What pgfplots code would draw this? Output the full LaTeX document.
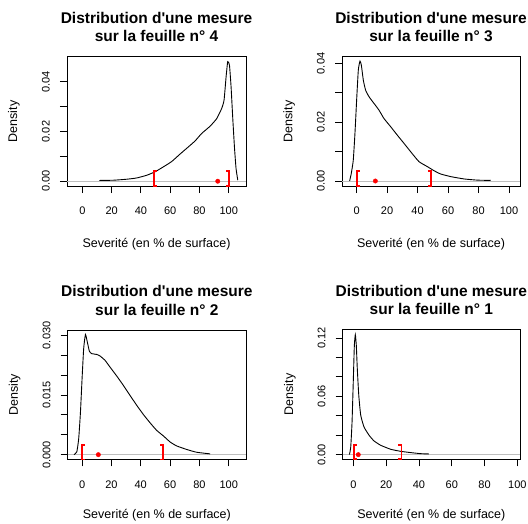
\documentclass[border=0pt]{standalone}
\usepackage{fontspec}
\setmainfont{Liberation Sans}[Ligatures=TeXOff]
\usepackage{pgfplots}
\pgfplotsset{compat=1.18}

\definecolor{rgray}{RGB}{190,190,190}
\definecolor{rred}{RGB}{255,0,0}

\pgfplotsset{
  rplot/.style={
    scale only axis, anchor=north west, clip=false,
    axis line style={line width=0.9pt},
    tick align=outside, major tick length=7pt,
    every tick/.style={black, line width=0.9pt},
    xtick pos=lower, ytick pos=left,
    xtick={0,20,...,100}, xticklabels={0,20,40,60,80,100},
    scaled y ticks=false,
    ticklabel style={font=\fontsize{11}{13}\selectfont},
    xticklabel style={inner sep=0pt, anchor=north},
    yticklabel style={inner sep=0pt, rotate=90, anchor=south},
    xticklabel shift=14pt,
    yticklabel shift=10pt,
    xlabel={Severité (en \% de surface)},
    ylabel={Density},
    label style={font=\fontsize{12.5}{15}\selectfont},
    xlabel style={at={(axis description cs:0.5,-0.472)}, anchor=base},
    ylabel style={at={(axis description cs:-0.279,0.5)}, anchor=base},
    title style={at={(axis description cs:0.5,1)}, anchor=south, align=center,
      inner sep=0pt, yshift=8.5pt, font=\fontsize{15.5}{18.5}\selectfont\bfseries},
  },
  lowrow/.style={xlabel style={at={(axis description cs:0.5,-0.457)}}},
  zero/.style={rgray, line width=0.9pt},
  dens/.style={black, line width=0.9pt, smooth, tension=0.3},
  brk/.style={rred, line width=1.8pt},
  pt/.style={only marks, mark=*, mark size=2.2pt, rred},
}

\begin{document}
\begin{tikzpicture}
\useasboundingbox (0pt,0pt) rectangle (528pt,-523pt);

% feuille 4
\begin{axis}[rplot, at={(67pt,-56.7pt)}, width=179pt, height=129.3pt,
  xmin=-10.5, xmax=111.8, ymin=-0.00193, ymax=0.0501,
  ytick={0,0.01,0.02,0.03,0.04}, yticklabels={0.00,,0.02,,0.04},
  title={Distribution d'une mesure\\sur la feuille n° 4}]
\addplot[zero] coordinates {(-10.5,0) (111.8,0)};
\addplot[dens] coordinates {
(11.6,0.0003) (21.2,0.0004) (30.3,0.0008) (37.1,0.0013) (44,0.0024)
(49.7,0.0038) (55.4,0.0058) (61,0.0079) (66.7,0.0109) (72.4,0.0138)
(77,0.0162) (81.5,0.0192) (87.2,0.0221) (91.8,0.0252) (95.2,0.0293)
(96.8,0.0326) (98.2,0.0420) (99.3,0.0481) (100.5,0.0467) (101.6,0.0380)
(102.7,0.0259) (103.9,0.0138) (105,0.0051) (106.2,0.0004)};
\addplot[brk] coordinates {(51,0.004) (49,0.004) (49,-0.002) (51,-0.002)};
\addplot[brk] coordinates {(98.2,0.004) (100.2,0.004) (100.2,-0.002) (98.2,-0.002)};
\addplot[pt] coordinates {(92.5,0)};
\end{axis}

% feuille 3
\begin{axis}[rplot, at={(342pt,-56.7pt)}, width=178pt, height=129.3pt,
  xmin=-9.6, xmax=107.2, ymin=-0.0017, ymax=0.0423,
  ytick={0,0.01,0.02,0.03,0.04}, yticklabels={0.00,,0.02,,0.04},
  title={Distribution d'une mesure\\sur la feuille n° 3}]
\addplot[zero] coordinates {(-9.6,0) (107.2,0)};
\addplot[dens] coordinates {
(-4.6,0) (-3.5,0.0026) (-2.2,0.0071) (-1.1,0.0162) (0,0.0275) (1.1,0.0377)
(2.2,0.0408) (3.1,0.0394) (4.4,0.0343) (5.9,0.0309) (8.1,0.0287)
(11.4,0.0264) (14.7,0.0241) (17.9,0.0213) (22.3,0.0185) (26.7,0.0156)
(31.1,0.0128) (35.4,0.0100) (40.9,0.0066) (46.4,0.0049) (50.8,0.0035)
(55.1,0.0024) (61.7,0.0015) (70.5,0.0007) (79.2,0.0003) (88,0.0002)};
\addplot[brk] coordinates {(2,0.0034) (0,0.0034) (0,-0.0017) (2,-0.0017)};
\addplot[brk] coordinates {(46.8,0.0034) (48.8,0.0034) (48.8,-0.0017) (46.8,-0.0017)};
\addplot[pt] coordinates {(12.3,0)};
\end{axis}

% feuille 2
\begin{axis}[rplot, lowrow, at={(67.7pt,-330.3pt)}, width=178.3pt, height=129pt,
  xmin=-9.8, xmax=111.8, ymin=-0.00117, ymax=0.03127,
  ytick={0,0.005,0.01,0.015,0.02,0.025,0.03}, yticklabels={0.000,,,0.015,,,0.030},
  title={Distribution d'une mesure\\sur la feuille n° 2}]
\addplot[zero] coordinates {(-9.8,0) (111.8,0)};
\addplot[dens] coordinates {
(-5.5,0) (-3.6,0.0007) (-2.3,0.004) (-1.1,0.0107) (0,0.0191) (1.1,0.0267)
(2.3,0.0302) (3.6,0.0283) (5,0.0260) (6.6,0.0254) (10,0.0252) (12.3,0.0248)
(15.7,0.0237) (19.1,0.0220) (23.6,0.0198) (28.2,0.0174) (32.7,0.0149)
(37.3,0.0124) (41.8,0.0101) (46.4,0.0080) (50.9,0.0061) (55.5,0.0047)
(60,0.0032) (64.5,0.0022) (71.4,0.0013) (78.2,0.0006) (87.3,0.0002)};
\addplot[brk] coordinates {(2,0.0025) (0,0.0025) (0,-0.0012) (2,-0.0012)};
\addplot[brk] coordinates {(53.4,0.0025) (55.4,0.0025) (55.4,-0.0012) (53.4,-0.0012)};
\addplot[pt] coordinates {(11.1,0)};
\end{axis}

% feuille 1
\begin{axis}[rplot, lowrow, at={(342.7pt,-329.7pt)}, width=177.3pt, height=129.6pt,
  xmin=-6.5, xmax=101.6, ymin=-0.0048, ymax=0.1286,
  ytick={0,0.02,0.04,0.06,0.08,0.10,0.12}, yticklabels={0.00,,,0.06,,,0.12},
  title={Distribution d'une mesure\\sur la feuille n° 1}]
\addplot[zero] coordinates {(-6.5,0) (101.6,0)};
\addplot[dens] coordinates {
(-2.4,0) (-1.6,0.0079) (-0.8,0.0336) (0,0.0782) (0.6,0.1124) (1.2,0.1234)
(1.8,0.1124) (2.4,0.0884) (3.3,0.0610) (4.5,0.0405) (6.5,0.0285)
(9.6,0.0199) (12.6,0.0141) (16.7,0.0096) (22.8,0.0055) (28.9,0.0034)
(35,0.0021) (41.1,0.0010) (46.1,0.0007)};
\addplot[brk] coordinates {(2.2,0.0103) (0.4,0.0103) (0.4,-0.0048) (2.2,-0.0048)};
\addplot[brk] coordinates {(27.5,0.0103) (29.3,0.0103) (29.3,-0.0048) (27.5,-0.0048)};
\addplot[pt] coordinates {(3.0,0)};
\end{axis}
\end{tikzpicture}
\end{document}
